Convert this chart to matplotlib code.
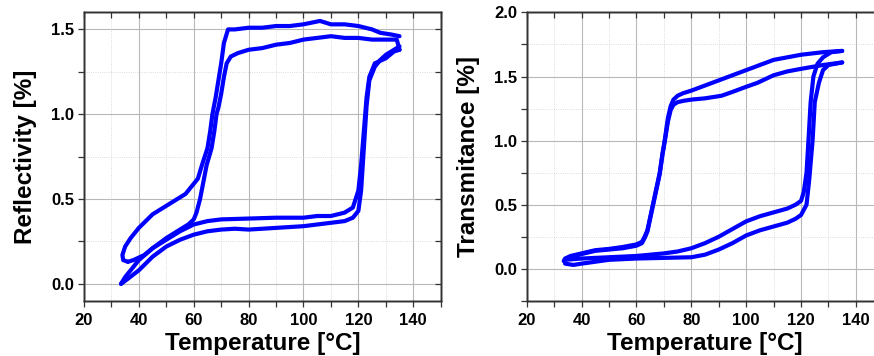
import matplotlib
matplotlib.use("Agg")
import matplotlib.pyplot as plt
from matplotlib.ticker import MultipleLocator

plt.rcParams['font.family'] = ['Liberation Sans', 'DejaVu Sans']
plt.rcParams['font.weight'] = 'bold'

# ---------------- Reflectivity (left) ----------------
r_heat1_t = [33.5, 36, 40, 45, 50, 55, 60, 65, 70, 75, 80, 90, 100, 110, 115, 118, 120, 121, 122, 123, 124, 126, 128, 130, 133, 135]
r_heat1_v = [0.00, 0.03, 0.08, 0.16, 0.22, 0.26, 0.29, 0.31, 0.32, 0.325, 0.32, 0.33, 0.34, 0.36, 0.37, 0.39, 0.43, 0.55, 0.80, 1.05, 1.20, 1.28, 1.32, 1.35, 1.38, 1.40]

r_cool1_t = [135, 132, 128, 125, 120, 115, 110, 106, 100, 95, 90, 85, 80, 75, 72.5, 71, 70, 69, 68, 66.8, 66, 65, 63, 61.5, 60, 58.5, 57, 55, 52, 50, 45, 40, 37, 35, 34, 34.3, 36]
r_cool1_v = [1.46, 1.47, 1.48, 1.50, 1.52, 1.53, 1.53, 1.55, 1.53, 1.52, 1.52, 1.51, 1.51, 1.50, 1.50, 1.42, 1.30, 1.20, 1.10, 1.00, 0.90, 0.80, 0.70, 0.62, 0.59, 0.56, 0.53, 0.51, 0.48, 0.46, 0.41, 0.33, 0.27, 0.22, 0.17, 0.14, 0.13]

r_heat2_t = [36, 38, 42, 45, 50, 55, 60, 65, 70, 80, 90, 100, 105, 110, 115, 118, 120, 121, 122, 123, 124, 126, 130, 133, 135]
r_heat2_v = [0.13, 0.14, 0.17, 0.21, 0.26, 0.31, 0.35, 0.37, 0.38, 0.385, 0.39, 0.39, 0.40, 0.40, 0.42, 0.45, 0.55, 0.70, 0.90, 1.10, 1.22, 1.30, 1.33, 1.37, 1.38]

r_cool2_t = [135, 134, 130, 125, 120, 115, 110, 105, 100, 95, 90, 85, 80, 76, 73.5, 72, 71, 70, 69, 68.3, 67.5, 66.5, 64.7, 63.5, 62.3, 61, 60, 58, 55, 50, 45, 40, 37, 35, 33.5]
r_cool2_v = [1.38, 1.44, 1.44, 1.44, 1.45, 1.45, 1.46, 1.45, 1.44, 1.42, 1.41, 1.39, 1.38, 1.36, 1.34, 1.30, 1.22, 1.12, 1.04, 1.00, 0.90, 0.80, 0.70, 0.60, 0.50, 0.42, 0.38, 0.35, 0.32, 0.27, 0.21, 0.14, 0.08, 0.04, 0.00]

# ---------------- Transmitance (right) ----------------
t_heatA_t = [34, 40, 50, 60, 70, 75, 80, 85, 90, 95, 100, 105, 110, 115, 118, 120, 121, 122, 122.7, 123.5, 124.5, 126, 128, 131, 135]
t_heatA_v = [0.07, 0.08, 0.09, 0.10, 0.12, 0.135, 0.16, 0.20, 0.25, 0.31, 0.37, 0.41, 0.44, 0.47, 0.50, 0.53, 0.60, 0.75, 1.00, 1.30, 1.50, 1.60, 1.65, 1.69, 1.70]

t_heatB_t = [34, 37, 40, 50, 60, 70, 80, 85, 90, 95, 100, 105, 110, 115, 118, 120, 122, 123, 124.2, 125, 126.5, 128, 130, 135]
t_heatB_v = [0.04, 0.03, 0.04, 0.07, 0.08, 0.085, 0.09, 0.11, 0.15, 0.20, 0.26, 0.30, 0.33, 0.36, 0.39, 0.42, 0.50, 0.70, 1.00, 1.30, 1.45, 1.55, 1.59, 1.61]

t_coolA_t = [135, 128, 120, 110, 100, 95, 90, 85, 80, 77, 75, 73.5, 72.5, 71.5, 70.3, 69.5, 68.5, 67.5, 66, 65, 64, 63, 62, 60, 55, 50, 45, 40, 36, 34, 33.5]
t_coolA_v = [1.70, 1.69, 1.67, 1.63, 1.55, 1.51, 1.47, 1.43, 1.39, 1.37, 1.35, 1.32, 1.27, 1.18, 1.00, 0.90, 0.75, 0.65, 0.50, 0.40, 0.30, 0.25, 0.21, 0.19, 0.17, 0.155, 0.145, 0.12, 0.10, 0.08, 0.06]

t_coolB_t = [135, 128, 120, 115, 110, 104, 100, 95, 91, 85, 80, 77, 75, 73.5, 72.5, 71.5, 70.3, 69.5, 68.5, 67.5, 66, 65, 64, 63, 62, 60, 55, 50, 45, 40, 36, 34]
t_coolB_v = [1.61, 1.59, 1.56, 1.54, 1.51, 1.45, 1.42, 1.38, 1.35, 1.33, 1.32, 1.31, 1.30, 1.28, 1.24, 1.15, 0.99, 0.89, 0.74, 0.64, 0.49, 0.39, 0.29, 0.24, 0.20, 0.18, 0.16, 0.15, 0.14, 0.115, 0.09, 0.07]

x_ticks = [20, 40, 60, 80, 100, 120, 140]
r_ticks = [0.0, 0.5, 1.0, 1.5]
t_ticks = [0.0, 0.5, 1.0, 1.5, 2.0]

BLUE = '#0000ff'
LW = 3.0
SPINE = '#333333'

fig = plt.figure(figsize=(8.74, 3.56), dpi=100)
ax1 = fig.add_axes([0.0961, 0.155, 0.4081, 0.810])
ax2 = fig.add_axes([0.6026, 0.155, 0.4081, 0.810])


def style(ax, yticks, ylim, ylabel, yminor):
    ax.set_xlim(20, 150)
    ax.set_ylim(*ylim)
    ax.set_xticks(x_ticks)
    ax.set_yticks(yticks)
    ax.set_yticklabels([f"{v:.1f}" for v in yticks])
    ax.xaxis.set_minor_locator(MultipleLocator(10))
    ax.yaxis.set_minor_locator(MultipleLocator(yminor))
    ax.grid(which='major', color='#b8b8b8', linewidth=0.8, linestyle='-', zorder=0)
    ax.grid(which='minor', color='#d0d0d0', linewidth=0.6, linestyle=':', zorder=0)
    ax.set_axisbelow(True)
    ax.tick_params(axis='both', which='both', direction='out', length=4, width=0.9,
                   labelsize=12, color=SPINE, top=False, right=False)
    ax.tick_params(axis='x', pad=5)
    ax.tick_params(axis='y', pad=3)
    for lab in ax.get_xticklabels() + ax.get_yticklabels():
        lab.set_fontweight('bold')
    for s in ax.spines.values():
        s.set_color(SPINE)
        s.set_linewidth(1.0)
    ax.set_xlabel('Temperature [°C]', fontsize=17.5, fontweight='bold', labelpad=3)
    ax.set_ylabel(ylabel, fontsize=17.5, fontweight='bold', labelpad=10)

    # inward ticks on top and right sides (no labels)
    tx = ax.twiny()
    tx.set_xlim(ax.get_xlim())
    tx.set_xticks(x_ticks)
    tx.xaxis.set_minor_locator(MultipleLocator(10))
    tx.tick_params(axis='x', which='both', direction='in', length=4, width=0.9, color=SPINE,
                   labeltop=False, labelbottom=False, top=True, bottom=False)
    ty = ax.twinx()
    ty.set_ylim(ax.get_ylim())
    ty.set_yticks(yticks)
    ty.yaxis.set_minor_locator(MultipleLocator(yminor))
    ty.tick_params(axis='y', which='both', direction='in', length=4, width=0.9, color=SPINE,
                   labelright=False, labelleft=False, right=True, left=False)
    for t in (tx, ty):
        for s in t.spines.values():
            s.set_color(SPINE)
            s.set_linewidth(1.0)


style(ax1, r_ticks, (-0.1, 1.6), 'Reflectivity [%]', 0.25)
style(ax2, t_ticks, (-0.25, 2.0), 'Transmitance [%]', 0.25)

for t, v in [(r_heat1_t, r_heat1_v), (r_cool1_t, r_cool1_v), (r_heat2_t, r_heat2_v), (r_cool2_t, r_cool2_v)]:
    ax1.plot(t, v, color=BLUE, lw=LW, solid_joinstyle='round', solid_capstyle='round', zorder=3)
for t, v in [(t_heatA_t, t_heatA_v), (t_heatB_t, t_heatB_v), (t_coolA_t, t_coolA_v), (t_coolB_t, t_coolB_v)]:
    ax2.plot(t, v, color=BLUE, lw=LW, solid_joinstyle='round', solid_capstyle='round', zorder=3)

fig.savefig('out.png', dpi=100)
